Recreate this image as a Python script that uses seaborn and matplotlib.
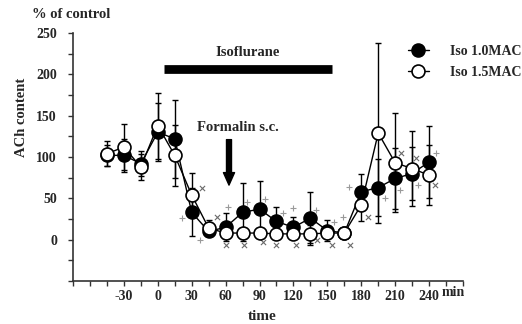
import matplotlib
matplotlib.use('Agg')
import matplotlib.pyplot as plt
from matplotlib.ticker import MultipleLocator
import seaborn as sns

# time points (min)
times = [-45, -30, -15, 0, 15, 30, 45, 60, 75, 90, 105, 120, 135, 150, 165, 180, 195, 210, 225, 240]

# Iso 1.0MAC (filled)
iso10 = [102, 102, 92, 130, 122, 33, 10, 15, 33, 37, 22, 15, 26, 11, 8, 58, 63, 74, 80, 94]
iso10_err = [13, 20, 15, 35, 47, 29, 6, 17, 35, 34, 18, 13, 32, 13, 0, 22, 34, 37, 32, 43]

# Iso 1.5MAC (open)
iso15 = [104, 112, 88, 138, 102, 54, 14, 8, 8, 8, 7, 7, 7, 8, 8, 42, 129, 93, 86, 78]
iso15_err = [15, 28, 16, 40, 37, 27, 10, 5, 6, 5, 5, 5, 11, 6, 4, 20, 109, 60, 45, 36]

# small grey marks
plus_x = [21, 37, 62, 79, 95, 111, 120, 140, 156, 164, 169, 201, 214, 230, 246]
plus_y = [26, -1, 39, 45, 49, 32, 38, 36, 21, 27, 64, 50, 60, 66, 105]
cross_x = [39, 52, 60, 76, 93, 105, 122, 141, 154, 170, 186, 215, 228, 245]
cross_y = [63, 27, -7, -7, -3, -7, -7, -1, -7, -7, 27, 105, 99, 66]

xtick_vals = [-30, 0, 30, 60, 90, 120, 150, 180, 210, 240]
ytick_vals = [0, 50, 100, 150, 200, 250]

# isoflurane period and formalin injection
iso_start, iso_end, iso_level = 5.5, 154, 207
formalin_t = 63

sns.set_style('ticks')
plt.rcParams['font.family'] = ['Liberation Serif', 'DejaVu Serif']
plt.rcParams['font.weight'] = 'bold'

fig = plt.figure(figsize=(5.22, 3.24), dpi=100)
ax = fig.add_axes([73 / 522, 1 - 281 / 324, 390 / 522, 248 / 324])

# error bars
ax.errorbar(times, iso10, yerr=iso10_err, fmt='none', ecolor='black', elinewidth=1,
            capsize=2.5, capthick=1, zorder=2)
ax.errorbar(times, iso15, yerr=iso15_err, fmt='none', ecolor='black', elinewidth=1,
            capsize=2.5, capthick=1, zorder=2)

# grey marks
sns.scatterplot(x=plus_x, y=plus_y, marker='+', color='#9a9a9a', s=18, linewidth=0.8, ax=ax, zorder=1)
sns.scatterplot(x=cross_x, y=cross_y, marker='x', color='#6a6a6a', s=14, linewidth=0.8, ax=ax, zorder=1)

# means
sns.lineplot(x=times, y=iso10, color='black', linewidth=1, marker='o', markersize=9.3,
             markerfacecolor='black', markeredgecolor='black', markeredgewidth=1.2,
             label='Iso 1.0MAC', ax=ax, zorder=3)
sns.lineplot(x=times, y=iso15, color='black', linewidth=1, marker='o', markersize=9.3,
             markerfacecolor='white', markeredgecolor='black', markeredgewidth=1.2,
             label='Iso 1.5MAC', ax=ax, zorder=4)

ax.set_xlim(-75, 270)
ax.set_ylim(-50, 250)
ax.set_xticks(xtick_vals)
ax.set_xticklabels([str(v) for v in xtick_vals])
ax.xaxis.set_minor_locator(MultipleLocator(15))
ax.set_yticks(ytick_vals)
ax.yaxis.set_minor_locator(MultipleLocator(25))
ax.tick_params(axis='both', which='both', direction='out', length=3.6, width=1, color='#333333')
ax.tick_params(axis='y', pad=8)
ax.tick_params(axis='x', pad=3)
for lab in ax.get_xticklabels() + ax.get_yticklabels():
    lab.set_fontsize(10)
    lab.set_fontweight('bold')
sns.despine(ax=ax)
for s in ['left', 'bottom']:
    ax.spines[s].set_linewidth(1.2)
    ax.spines[s].set_color('#333333')
ax.set_xlabel('')
ax.set_ylabel('')

# isoflurane bar
ax.plot([iso_start, iso_end], [iso_level, iso_level], color='black', linewidth=6.3,
        solid_capstyle='butt')
ax.text((iso_start + iso_end) / 2, iso_level + 19, 'Isoflurane', ha='center', va='center',
        fontsize=10.5, fontweight='bold')

# formalin arrow
ax.annotate('', xy=(formalin_t, 66), xytext=(formalin_t, 121),
            arrowprops=dict(facecolor='black', edgecolor='black', width=3.6, headwidth=8,
                            headlength=9))
ax.text(71, 136, 'Formalin s.c.', ha='center', va='center', fontsize=10.5, fontweight='bold')

# labels
fig.text(32 / 522, 1 - 15 / 324, '% of control', ha='left', va='center', fontsize=10.5, fontweight='bold')
fig.text(22 / 522, 1 - 117 / 324, 'ACh content', ha='center', va='center', rotation=90,
         fontsize=10.5, fontweight='bold')
fig.text(262 / 522, 1 - 316 / 324, 'time', ha='center', va='center', fontsize=11, fontweight='bold')
fig.text(453 / 522, 1 - 293 / 324, 'min', ha='center', va='center', fontsize=10, fontweight='bold')

leg = ax.legend(loc='upper left', bbox_to_anchor=(408 / 522, 1 - 45 / 324), bbox_transform=fig.transFigure,
                frameon=False, borderpad=0, borderaxespad=0, handlelength=1.5, handletextpad=1.55,
                labelspacing=0.55, prop={'size': 10, 'weight': 'bold'})

fig.savefig('out.png', dpi=100)
